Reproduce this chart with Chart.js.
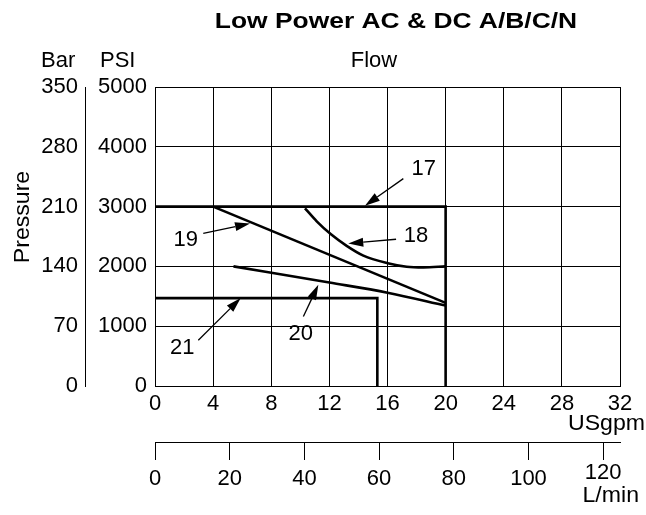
<!DOCTYPE html>
<html>
<head>
<meta charset="utf-8">
<script src="https://cdn.jsdelivr.net/npm/chart.js@4.4.1/dist/chart.umd.min.js"></script>
<style>
  body { margin: 0; background: #fff; }
  canvas { display: block; }
</style>
</head>
<body>
<canvas id="flowChart" width="646" height="515"></canvas>
<script>
// curves: [USgpm, PSI]
var curve17 = [[0, 3000], [20, 3000], [20, 0]];
var curve18 = [[10.32, 2972], [11.13, 2754], [12.11, 2536], [13.19, 2344], [14.34, 2180], [16.02, 2054], [17.32, 1995], [18.47, 1984], [20, 2000]];
var curve19 = [[4, 3000], [20, 1390]];
var curve20 = [[5.4, 2000], [12, 1730], [16, 1561], [20, 1345]];
var curve21 = [[0, 1470], [15.3, 1470], [15.3, 0]];

var gpmTicks = [0, 4, 8, 12, 16, 20, 24, 28, 32];
var psiTicks = [0, 1000, 2000, 3000, 4000, 5000];
var barTicks = [0, 70, 140, 210, 280, 350];
var lpmTicks = [0, 20, 40, 60, 80, 100, 120];
var lpmMax = 124.5; // L/min at the right end of the USgpm axis

// callouts: label position, arrow tail, arrow tip (USgpm, PSI)
var callouts = [
  { text: "17", label: [18.5, 3629], from: [17.09, 3468], to: [14.45, 3016] },
  { text: "18", label: [17.96, 2508], from: [16.59, 2454], to: [13.3, 2382] },
  { text: "19", label: [2.11, 2439], from: [3.32, 2552], to: [6.54, 2716] },
  { text: "20", label: [10.03, 873], from: [10.21, 1162], to: [11.24, 1692] },
  { text: "21", label: [1.88, 639], from: [2.98, 766], to: [5.9, 1471] }
];

var FONT = "Liberation Sans, Arial, sans-serif";

function pts(c) {
  return c.map(function (p) { return { x: p[0], y: p[1] }; });
}

function curve(c, smooth) {
  return {
    data: pts(c),
    showLine: true,
    borderColor: "#000",
    borderWidth: 2.6,
    pointRadius: 0,
    fill: false,
    tension: smooth ? 0.4 : 0,
    cubicInterpolationMode: smooth ? "monotone" : "default",
    xAxisID: "x",
    yAxisID: "y"
  };
}

function setTicks(list) {
  return function (s) {
    s.ticks = list.map(function (v) { return { value: v }; });
  };
}

function plain(v) {
  return String(v);
}

function drawText(ctx, text, x, y, font, align, sx) {
  ctx.save();
  ctx.font = font;
  ctx.fillStyle = "#000";
  ctx.textAlign = align;
  ctx.textBaseline = "alphabetic";
  ctx.translate(x, y);
  ctx.scale(sx || 1, 1);
  ctx.fillText(text, 0, 0);
  ctx.restore();
}

var extras = {
  id: "extras",
  afterDraw: function (chart) {
    var ctx = chart.ctx;
    var sx = chart.scales.x, sy = chart.scales.y, s2 = chart.scales.x2;

    // arrows + numbers
    ctx.save();
    ctx.strokeStyle = "#000";
    ctx.fillStyle = "#000";
    ctx.lineWidth = 1.3;
    callouts.forEach(function (c) {
      var x1 = sx.getPixelForValue(c.from[0]), y1 = sy.getPixelForValue(c.from[1]);
      var x2 = sx.getPixelForValue(c.to[0]), y2 = sy.getPixelForValue(c.to[1]);
      var a = Math.atan2(y2 - y1, x2 - x1);
      var len = 15, half = 4.5;
      var bx = x2 - len * Math.cos(a), by = y2 - len * Math.sin(a);
      ctx.beginPath();
      ctx.moveTo(x1, y1);
      ctx.lineTo(bx, by);
      ctx.stroke();
      ctx.beginPath();
      ctx.moveTo(x2, y2);
      ctx.lineTo(bx + half * Math.sin(a), by - half * Math.cos(a));
      ctx.lineTo(bx - half * Math.sin(a), by + half * Math.cos(a));
      ctx.closePath();
      ctx.fill();

      ctx.font = "22px " + FONT;
      ctx.textAlign = "center";
      ctx.textBaseline = "middle";
      ctx.fillText(c.text, sx.getPixelForValue(c.label[0]), sy.getPixelForValue(c.label[1]));
    });
    ctx.restore();

    drawText(ctx, "Low Power AC & DC A/B/C/N", 396, 28, "bold 22px " + FONT, "center", 1.2);
    drawText(ctx, "Flow", 374, 67, "22px " + FONT, "center");
    drawText(ctx, "Bar", 41, 67, "22px " + FONT, "left");
    drawText(ctx, "PSI", 100, 67, "22px " + FONT, "left");
    drawText(ctx, "USgpm", 645, 430, "22px " + FONT, "right", 1.05);
    drawText(ctx, "L/min", 639, 502, "22px " + FONT, "right", 1.05);
    var last = lpmTicks[lpmTicks.length - 1];
    drawText(ctx, String(last), s2.getPixelForValue(last), 479, "22px " + FONT, "center");

    ctx.save();
    ctx.translate(29, 217);
    ctx.rotate(-Math.PI / 2);
    drawText(ctx, "Pressure", 0, 0, "22px " + FONT, "center", 1.05);
    ctx.restore();
  }
};

var tickFont = { family: FONT, size: 22 };

var ctx = document.getElementById("flowChart").getContext("2d");
var flowChart = new Chart(ctx, {
  type: "scatter",
  data: {
    datasets: [
      curve(curve17, false),
      curve(curve18, true),
      curve(curve19, false),
      curve(curve20, true),
      curve(curve21, false)
    ]
  },
  options: {
    responsive: false,
    animation: false,
    events: [],
    layout: { padding: { top: 87, right: 26, bottom: 0, left: 0 } },
    plugins: {
      legend: { display: false },
      tooltip: { enabled: false }
    },
    scales: {
      x: {
        type: "linear",
        position: "bottom",
        weight: 0,
        min: 0,
        max: 32,
        afterBuildTicks: setTicks(gpmTicks),
        afterFit: function (s) { s.height = 56; },
        grid: { color: "#000", lineWidth: 1, drawTicks: false },
        border: { color: "#000", width: 1 },
        ticks: { color: "#000", font: tickFont, padding: 5, maxRotation: 0, callback: plain }
      },
      x2: {
        type: "linear",
        position: "bottom",
        weight: 1,
        min: 0,
        max: lpmMax,
        afterBuildTicks: setTicks(lpmTicks),
        afterFit: function (s) { s.height = 73; },
        grid: { drawOnChartArea: false, drawTicks: true, tickLength: 18, tickColor: "#000", tickWidth: 1 },
        border: { color: "#000", width: 1 },
        ticks: {
          color: "#000",
          font: tickFont,
          padding: 6,
          maxRotation: 0,
          callback: function (v) { return v === lpmTicks[lpmTicks.length - 1] ? "" : String(v); }
        }
      },
      y: {
        type: "linear",
        position: "left",
        weight: 0,
        min: 0,
        max: 5000,
        afterBuildTicks: setTicks(psiTicks),
        afterFit: function (s) { s.width = 70; },
        grid: { color: "#000", lineWidth: 1, drawTicks: false },
        border: { color: "#000", width: 1 },
        ticks: { color: "#000", font: tickFont, padding: 8, callback: plain }
      },
      yBar: {
        type: "linear",
        position: "left",
        weight: 1,
        min: 0,
        max: 350,
        afterBuildTicks: setTicks(barTicks),
        afterFit: function (s) { s.width = 85; },
        grid: { drawOnChartArea: false, drawTicks: false },
        border: { color: "#000", width: 1 },
        ticks: { color: "#000", font: tickFont, padding: 7, callback: plain }
      }
    }
  },
  plugins: [extras]
});
</script>
</body>
</html>
